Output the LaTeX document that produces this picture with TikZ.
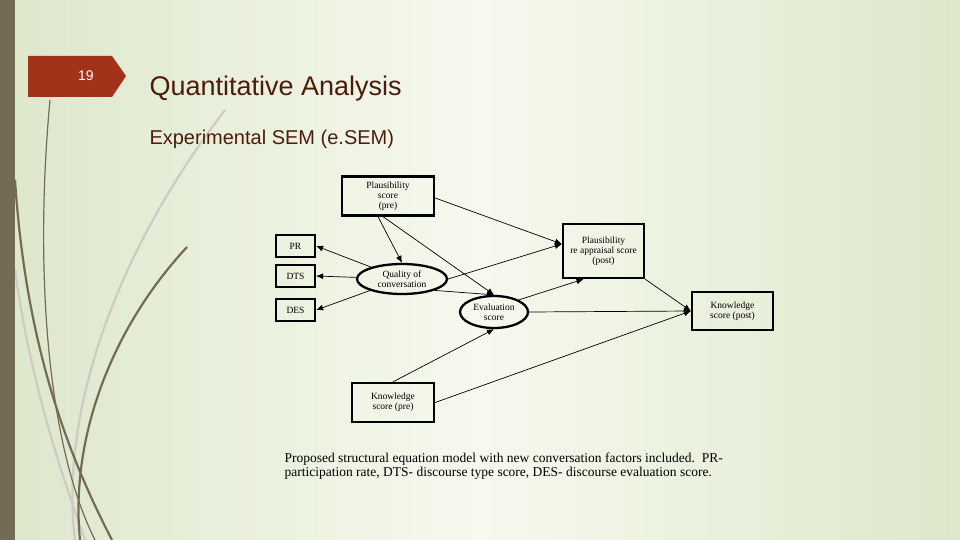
\documentclass[tikz,border=0pt]{standalone}
\usepackage{fontspec}
\setmainfont{Liberation Serif}
\newfontfamily\arialf{Liberation Sans}
\usetikzlibrary{shapes.geometric,arrows.meta}
\definecolor{barc}{HTML}{736B55}
\definecolor{tabc}{HTML}{A3321A}
\definecolor{titc}{HTML}{4E1C0C}
\definecolor{bgA}{HTML}{F6F9EE}
\definecolor{bgB}{HTML}{DDE7CB}
\tikzset{
  box/.style={draw, line width=2.3pt, align=center, inner sep=1pt, font=\fontsize{9.5}{10}\selectfont},
  ell/.style={draw, ellipse, line width=2.3pt, align=center, inner sep=0pt, font=\fontsize{9.5}{10}\selectfont},
  arr/.style={-{Latex[length=7pt,width=6pt]}, line width=0.7pt},
  curveD/.style={barc, line width=2.2pt},
  curveL/.style={barc!35, line width=2.2pt}
}
\begin{document}
\begin{tikzpicture}[x=1pt,y=-1pt]
\useasboundingbox (0,0) rectangle (960,540);
\shade[left color=bgB, right color=bgB, middle color=bgA] (0,0) rectangle (960,540);
% decorative curves
\draw[curveL] (225,110) .. controls (110,260) and (60,420) .. (75,540);
\draw[curveL] (15,270) .. controls (30,380) and (60,470) .. (85,540);
\draw[curveD, line width=1.2pt] (50,100) .. controls (35,260) and (45,440) .. (95,540);
\draw[curveD] (15,180) .. controls (25,330) and (60,440) .. (112,540);
\draw[curveD] (187,247) .. controls (110,330) and (70,440) .. (80,540);
\fill[barc] (0,0) rectangle (15,540);
\fill[tabc] (28,56) -- (112,56) -- (126,76) -- (112,97) -- (28,97) -- cycle;
\node[white, font=\arialf\fontsize{14}{14}\selectfont] (num) at (86,76) {19};
\node[anchor=west, titc, font=\arialf\fontsize{27}{27}\selectfont] (title) at (146,89) {Quantitative Analysis};
\node[anchor=west, titc, font=\arialf\fontsize{20}{20}\selectfont] (sub) at (146,139) {Experimental SEM (e.SEM)};
% diagram
\node[box, minimum width=92pt, minimum height=39pt] (pp) at (388,196) {Plausibility\\score\\(pre)};
\node[box, minimum width=39pt, minimum height=22pt] (pr) at (295.5,246) {PR};
\node[box, minimum width=39pt, minimum height=22pt] (dts) at (295.5,276) {DTS};
\node[box, minimum width=39pt, minimum height=22pt] (des) at (295.5,310) {DES};
\node[ell, minimum width=90pt, minimum height=30pt] (q) at (402,279) {Quality of\\conversation};
\node[box, minimum width=81pt, minimum height=54pt] (ppost) at (603.5,251) {Plausibility\\re appraisal score\\(post)};
\node[ell, minimum width=68pt, minimum height=32pt] (ev) at (494,312) {Evaluation\\score};
\node[box, minimum width=81pt, minimum height=38pt] (kpost) at (732.5,311) {Knowledge\\score (post)};
\node[box, minimum width=82pt, minimum height=39pt] (kpre) at (393,402.5) {Knowledge\\score (pre)};
\draw[arr] ([yshift=-2pt]pp.east) -- ([yshift=7pt]ppost.west);
\draw[arr] ([xshift=-10pt]pp.south) -- (q.north);
\draw[arr] ([xshift=-5pt]pp.south) -- (ev.north);
\draw[arr] (q) -- (pr.east);
\draw[arr] (q) -- (dts.east);
\draw[arr] (q) -- (des.east);
\draw[arr] (q.east) -- ([yshift=7pt]ppost.west);
\draw[arr] (q.south east) -- (ev.north);
\draw[arr] (ev.north east) -- ([xshift=-20pt]ppost.south);
\draw[arr] (ev.east) -- (kpost.west);
\draw[arr] (ppost.south east) -- (kpost.west);
\draw[arr] (kpre.north) -- (ev.south);
\draw[arr] (kpre.east) -- (kpost.west);
\node[anchor=north west, align=left, font=\fontsize{13.5}{14.5}\selectfont] (cap) at (281,449) {Proposed structural equation model with new conversation factors included.\ \ PR-\\participation rate, DTS- discourse type score, DES- discourse evaluation score.};
\end{tikzpicture}
\end{document}
